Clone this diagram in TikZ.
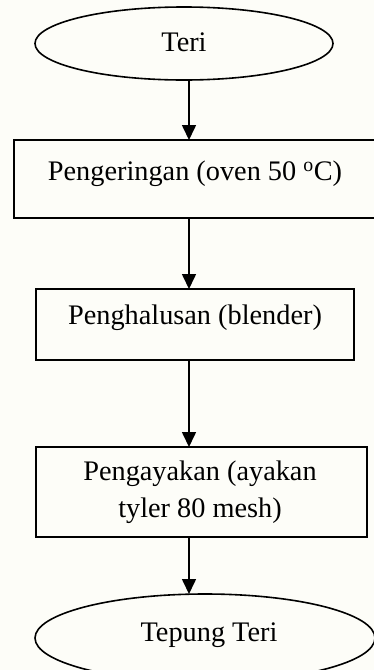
\documentclass[tikz,border=0pt]{standalone}
\usepackage{fontspec}
\setmainfont{Liberation Serif}
\usetikzlibrary{arrows.meta,shapes.geometric}
\definecolor{paper}{RGB}{253,253,248}
\tikzset{
  px/.style={x=1pt,y=-1pt},
  stepbox/.style={draw,line width=1.6pt,inner sep=0pt},
  ovalnode/.style={draw,line width=1.6pt,ellipse,inner sep=0pt},
  flow/.style={line width=1.6pt,-{Triangle[length=15pt,width=14pt]}},
  lbl/.style={font=\fontsize{28.3}{37}\selectfont,align=center}
}
\begin{document}
\begin{tikzpicture}[px]
  \fill[paper] (0,0) rectangle (374,670);
  \useasboundingbox (0,0) rectangle (374,670);
  \begin{scope}
    \clip (0,0) rectangle (374,670);
    % process shapes
    \node[ovalnode,minimum width=298pt,minimum height=73pt] (teri) at (184,43.5) {};
    \node[stepbox,minimum width=364pt,minimum height=78pt] (dry) at (196,179) {};
    \node[stepbox,minimum width=318pt,minimum height=71pt] (mill) at (195,324.5) {};
    \node[stepbox,minimum width=331pt,minimum height=90pt] (sieve) at (201.5,492) {};
    \node[ovalnode,minimum width=340pt,minimum height=88pt] (flour) at (205,638) {};
    % labels
    \node[lbl] at (184,42) {Teri};
    \node[lbl] at (195,174) {Pengeringan (oven 50 \textsuperscript{o}C)};
    \node[lbl] at (195,318) {Penghalusan (blender)};
    \node[lbl] at (200,492) {Pengayakan (ayakan\\tyler 80 mesh)};
    \node[lbl] at (209,635) {Tepung Teri};
    % connectors
    \coordinate (a1) at (189,80);
    \coordinate (b1) at (189,140);
    \coordinate (a2) at (189,218);
    \coordinate (b2) at (189,289);
    \coordinate (a3) at (189,360);
    \coordinate (b3) at (189,447);
    \coordinate (a4) at (189,537);
    \coordinate (b4) at (189,594);
    \draw[flow] (a1) -- (b1);
    \draw[flow] (a2) -- (b2);
    \draw[flow] (a3) -- (b3);
    \draw[flow] (a4) -- (b4);
  \end{scope}
\end{tikzpicture}
\end{document}
